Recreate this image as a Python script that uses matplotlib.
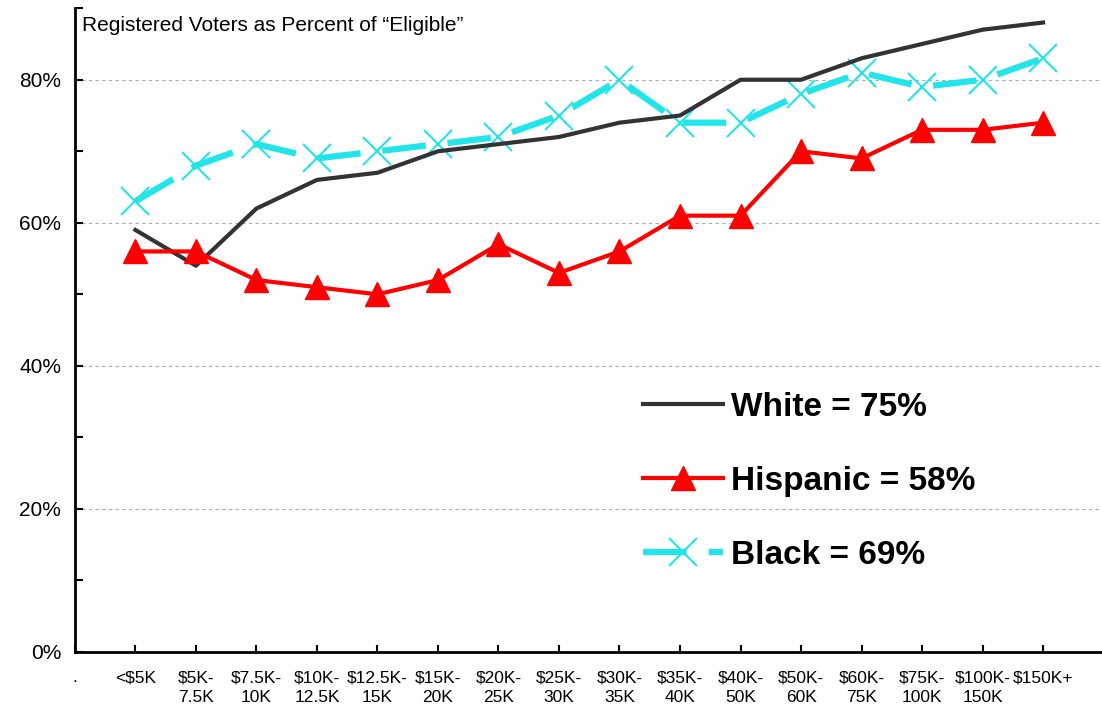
import matplotlib
matplotlib.use("Agg")
import matplotlib.pyplot as plt
from matplotlib.ticker import MultipleLocator, FuncFormatter

plt.rcParams['font.family'] = ['Liberation Sans', 'DejaVu Sans']

income = ['<$5K', '$5K-\n7.5K', '$7.5K-\n10K', '$10K-\n12.5K', '$12.5K-\n15K',
          '$15K-\n20K', '$20K-\n25K', '$25K-\n30K', '$30K-\n35K', '$35K-\n40K',
          '$40K-\n50K', '$50K-\n60K', '$60K-\n75K', '$75K-\n100K', '$100K-\n150K',
          '$150K+']
white = [59, 54, 62, 66, 67, 70, 71, 72, 74, 75, 80, 80, 83, 85, 87, 88]
hispanic = [56, 56, 52, 51, 50, 52, 57, 53, 56, 61, 61, 70, 69, 73, 73, 74]
black = [63, 68, 71, 69, 70, 71, 72, 75, 80, 74, 74, 78, 81, 79, 80, 83]

fig = plt.figure(figsize=(11.02, 7.09), dpi=100)
ax = fig.add_axes([0.068, 0.0804, 0.94, 0.908])

x = list(range(len(income)))
ax.plot(x, white, color='#333333', lw=3, label='White = 75%', zorder=3)
ax.plot(x, hispanic, color='#ff0000', lw=3, marker='^', markersize=17,
        label='Hispanic = 58%', zorder=4)
ax.plot(x, black, color='#22e5ea', lw=4.5, linestyle=(0, (7, 3.5)), marker='x',
        markersize=20, markeredgewidth=1.5, label='Black = 69%', zorder=2)

ax.set_xlim(-1, 16.12)
ax.set_ylim(0, 90)
ax.yaxis.set_major_locator(MultipleLocator(20))
ax.yaxis.set_minor_locator(MultipleLocator(10))
ax.yaxis.set_major_formatter(FuncFormatter(lambda v, p: f'{v:.0f}%'))
for g in [20, 40, 60, 80]:
    ax.axhline(g, color='#aaaaaa', lw=0.8, ls=(0, (3, 3)), zorder=1)

ax.set_xticks([-1] + x)
ax.set_xticklabels(['.'] + income, fontsize=12.5, linespacing=1.45)
ax.tick_params(axis='x', direction='in', length=5, width=1.5, pad=13)
ax.tick_params(axis='y', which='both', direction='in', length=6, width=1.5,
               labelsize=15, pad=10)

for s in ['top', 'right']:
    ax.spines[s].set_visible(False)
ax.spines['left'].set_linewidth(2)
ax.spines['bottom'].set_linewidth(2)

ax.text(0.007, 0.988, 'Registered Voters as Percent of \u201cEligible\u201d',
        transform=ax.transAxes, fontsize=15, va='top', ha='left')

ax.legend(loc='center left', bbox_to_anchor=(0.548, 0.265), frameon=False,
          prop={'weight': 'bold', 'size': 24}, handlelength=2.4,
          handletextpad=0.25, labelspacing=1.29, borderpad=0, borderaxespad=0,
          numpoints=1)

fig.savefig('out.png', dpi=100)
